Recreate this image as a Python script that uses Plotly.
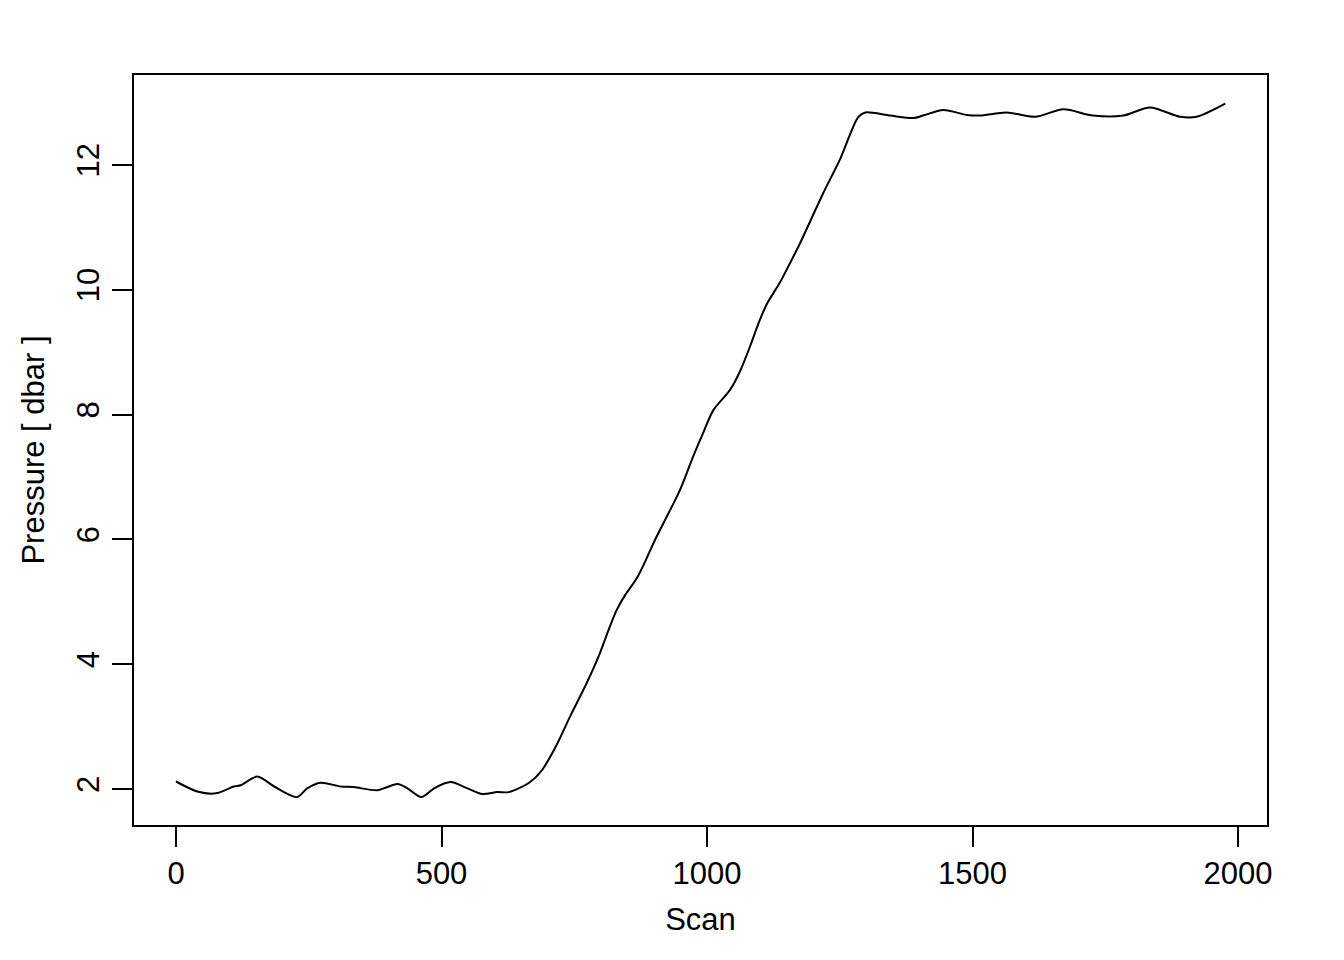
import plotly.graph_objects as go

scan = [0, 40, 75, 109, 122, 153, 185, 228, 247, 272, 310, 335, 379, 417, 436, 462,
        486, 517, 549, 577, 605, 627, 665, 689, 717, 742, 773, 798, 817, 830, 846,
        868, 886, 902, 949, 974, 990, 1012, 1043, 1062, 1081, 1097, 1112, 1137, 1156,
        1175, 1219, 1250, 1285, 1298, 1345, 1389, 1407, 1445, 1489, 1514, 1564, 1618,
        1671, 1727, 1784, 1834, 1891, 1922, 1976]
pressure = [2.12, 1.96, 1.93, 2.04, 2.06, 2.20, 2.04, 1.87, 2.01, 2.10, 2.04, 2.03,
            1.98, 2.08, 2.01, 1.87, 2.01, 2.11, 2.01, 1.92, 1.95, 1.95, 2.10, 2.30,
            2.71, 3.16, 3.69, 4.17, 4.60, 4.87, 5.11, 5.38, 5.69, 5.99, 6.79, 7.33,
            7.65, 8.07, 8.39, 8.69, 9.09, 9.46, 9.76, 10.11, 10.42, 10.74, 11.55,
            12.08, 12.77, 12.84, 12.79, 12.75, 12.79, 12.88, 12.80, 12.79, 12.84,
            12.77, 12.89, 12.79, 12.79, 12.92, 12.77, 12.77, 12.98]

x_ticks = [0, 500, 1000, 1500, 2000]
y_ticks = [2, 4, 6, 8, 10, 12]
x_title = "Scan"
y_title = "Pressure [ dbar ]"

FONT = "Liberation Sans, Arial, Helvetica, sans-serif"

fig = go.Figure()
fig.add_trace(go.Scatter(x=scan, y=pressure, mode="lines",
                         line=dict(color="black", width=2, shape="spline", smoothing=0.8),
                         showlegend=False, hoverinfo="skip"))

fig.update_layout(
    width=1336, height=952,
    margin=dict(l=126, r=77, t=67, b=135),
    paper_bgcolor="white", plot_bgcolor="white",
    font=dict(family=FONT, size=31, color="black"),
    xaxis=dict(range=[-79.1, 2054.6], tickvals=x_ticks, ticks="outside", ticklen=20,
               tickwidth=2, tickcolor="black", showline=True, mirror=True,
               linecolor="black", linewidth=2, showgrid=False, zeroline=False,
               ticklabelstandoff=0,
               title=dict(text=x_title, standoff=18, font=dict(size=31))),
    yaxis=dict(range=[1.423, 13.44], tickvals=y_ticks, ticks="outside", ticklen=20,
               tickwidth=2, tickcolor="black", showline=True, mirror=True,
               linecolor="black", linewidth=2, showgrid=False, zeroline=False,
               tickangle=-90, ticklabelstandoff=1,
               title=dict(text=y_title, standoff=17, font=dict(size=31))),
)

fig.write_html("out.html")
